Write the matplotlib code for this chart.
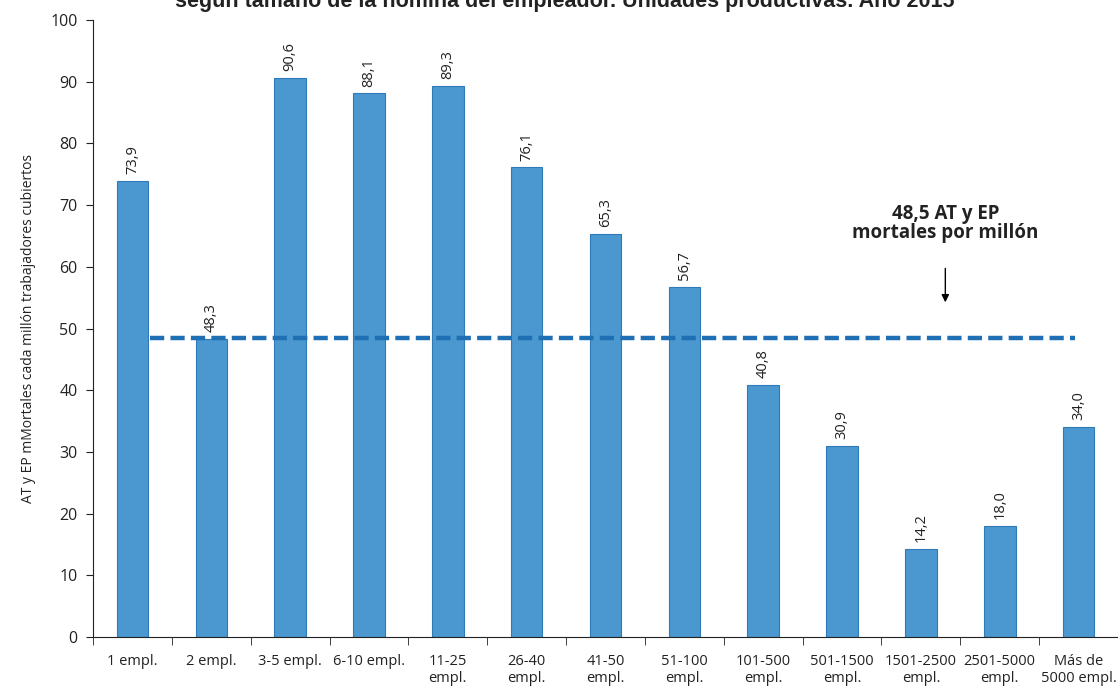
import matplotlib
matplotlib.use("Agg")
import matplotlib.pyplot as plt
import numpy as np

categories = ["1 empl.", "2 empl.", "3-5 empl.", "6-10 empl.", "11-25\nempl.", "26-40\nempl.",
              "41-50\nempl.", "51-100\nempl.", "101-500\nempl.", "501-1500\nempl.",
              "1501-2500\nempl.", "2501-5000\nempl.", "Más de\n5000 empl."]
values = [73.9, 48.3, 90.6, 88.1, 89.3, 76.1, 65.3, 56.7, 40.8, 30.9, 14.2, 18.0, 34.0]
average = 48.5
title = "según tamaño de la nómina del empleador. Unidades productivas. Año 2015"
ylabel = "AT y EP mMortales cada millón trabajadores cubiertos"
note = "48,5 AT y EP\nmortales por millón"

plt.rcParams['font.family'] = ['Open Sans', 'DejaVu Sans']

fig = plt.figure(figsize=(11.18, 6.86), dpi=100)
ax = fig.add_axes([0.0832, 0.0714, 0.9168, 0.8994])

x = np.arange(len(categories))
ax.bar(x, values, width=0.4, color="#4a98cf", edgecolor="#2f7ab8", linewidth=0.8, zorder=2)

for xi, v in zip(x, values):
    ax.annotate(f"{v:.1f}".replace(".", ","), (xi, v), xytext=(0, 5), textcoords="offset points",
                rotation=90, ha="center", va="bottom", fontsize=10.5, color="#222222")

ax.plot([0.22, 11.96], [average, average], linestyle=(0, (3.2, 1.4)), color="#1f6fb5",
        linewidth=3.2, zorder=3)

ax.text(10.31, 67.0, note, ha="center", va="center", fontsize=13.5, fontweight="bold",
        color="#222222", linespacing=0.95)
ax.annotate("", xy=(10.31, 53.8), xytext=(10.31, 60.2),
            arrowprops=dict(arrowstyle="-|>", color="black", lw=1.0, mutation_scale=11))

ax.set_xlim(-0.5, 12.5)
ax.set_ylim(0, 100)
ax.set_yticks(range(0, 101, 10))
ax.tick_params(axis="y", labelsize=11.5, length=5, direction="out", colors="#222222", pad=6)
ax.set_xticks(x)
ax.set_xticklabels(categories, fontsize=10.5, color="#222222", linespacing=1.25)
ax.tick_params(axis="x", which="major", length=0, pad=12)
ax.set_xticks(np.arange(-0.5, 12.6, 1), minor=True)
ax.tick_params(axis="x", which="minor", length=6, direction="out", color="#222222")

for s in ["top", "right"]:
    ax.spines[s].set_visible(False)
ax.spines["left"].set_color("#222222")
ax.spines["bottom"].set_color("#222222")

ax.set_ylabel(ylabel, fontsize=10, color="#222222", labelpad=10)

fig.text(0.505, 0.998, title, ha="center", va="center", fontsize=15.5, fontweight="bold",
         color="#222222", family=["Liberation Sans", "DejaVu Sans"])

fig.savefig("out.png", dpi=100)
